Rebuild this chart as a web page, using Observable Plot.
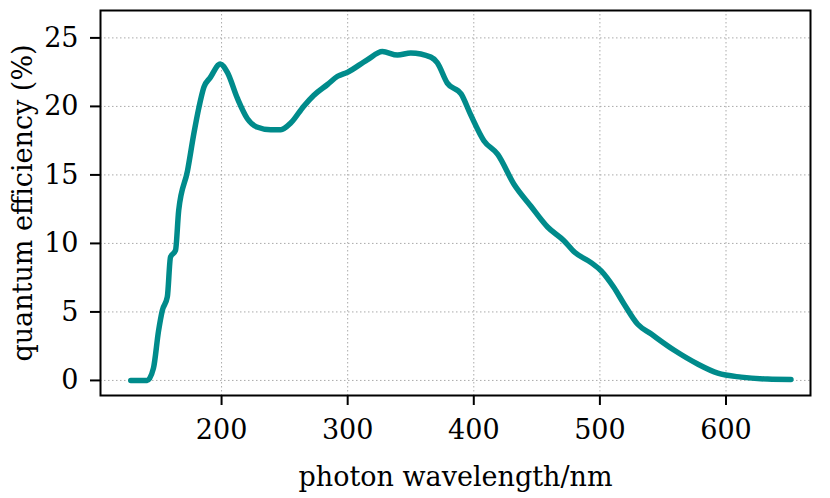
<!DOCTYPE html>
<html>
<head>
<meta charset="utf-8">
<script src="https://cdn.jsdelivr.net/npm/d3@7"></script>
<script src="https://cdn.jsdelivr.net/npm/@observablehq/plot@0.6"></script>
<style>
  html, body { margin: 0; padding: 0; background: white; }
</style>
</head>
<body>
<div id="chart"></div>
<script>
// photon wavelength (nm)
const wavelength = [128, 141, 146, 150, 153, 157, 159.5, 163.5, 166, 173, 178, 182, 186, 191, 199, 204.5, 212.5, 220.5, 228, 239, 247, 255, 265, 273, 284, 292, 300, 315.5, 327.5, 339.5, 350, 366, 371, 379, 390, 397.5, 408, 419, 432, 445, 458.5, 471.5, 480, 493, 501, 511, 519, 530, 540.5, 559, 577.5, 593.5, 612, 633, 651.5];
// quantum efficiency (%)
const efficiency = [0, 0, 0.9, 3.6, 5.1, 6.1, 9.0, 9.5, 12.4, 15.3, 18.0, 19.9, 21.4, 22.1, 23.1, 22.5, 20.6, 19.1, 18.5, 18.3, 18.3, 18.8, 20.0, 20.8, 21.6, 22.2, 22.5, 23.4, 24.0, 23.75, 23.9, 23.6, 23.2, 21.7, 20.9, 19.4, 17.5, 16.5, 14.3, 12.75, 11.2, 10.2, 9.35, 8.6, 8.0, 6.8, 5.6, 4.1, 3.4, 2.2, 1.2, 0.53, 0.24, 0.1, 0.07];
const xTicks = [200, 300, 400, 500, 600];
const yTicks = [0, 5, 10, 15, 20, 25];

const data = wavelength.map((w, i) => ({w, qe: efficiency[i]}));

const font = "'DejaVu Serif', serif";
const fs = 27;
const chart = Plot.plot({
  width: 830,
  height: 498,
  marginLeft: 100,
  marginRight: 20,
  marginTop: 10,
  marginBottom: 103,
  style: {fontFamily: font, fontSize: fs + "px", background: "white", color: "black"},
  x: {domain: [104, 667]},
  y: {domain: [-1.1, 27]},
  marks: [
    Plot.gridX(xTicks, {stroke: "#aaa", strokeOpacity: 1, strokeWidth: 1, strokeDasharray: "1.5,2.5"}),
    Plot.gridY(yTicks, {stroke: "#aaa", strokeOpacity: 1, strokeWidth: 1, strokeDasharray: "1.5,2.5"}),
    Plot.line(data, {x: "w", y: "qe", stroke: "#008b8b", strokeWidth: 5.5, curve: "monotone-x"}),
    Plot.frame({stroke: "black", strokeWidth: 2}),
    Plot.axisX(xTicks, {tickSize: 10, tickPadding: 14, strokeWidth: 2, label: "photon wavelength/nm", labelAnchor: "center", labelArrow: "none", labelOffset: 90, fontSize: fs}),
    Plot.axisY(yTicks, {tickSize: 10, tickPadding: 12, strokeWidth: 2, label: "quantum efficiency (%)", labelAnchor: "center", labelArrow: "none", labelOffset: 88, fontSize: fs})
  ]
});
document.getElementById("chart").appendChild(chart);
</script>
</body>
</html>
